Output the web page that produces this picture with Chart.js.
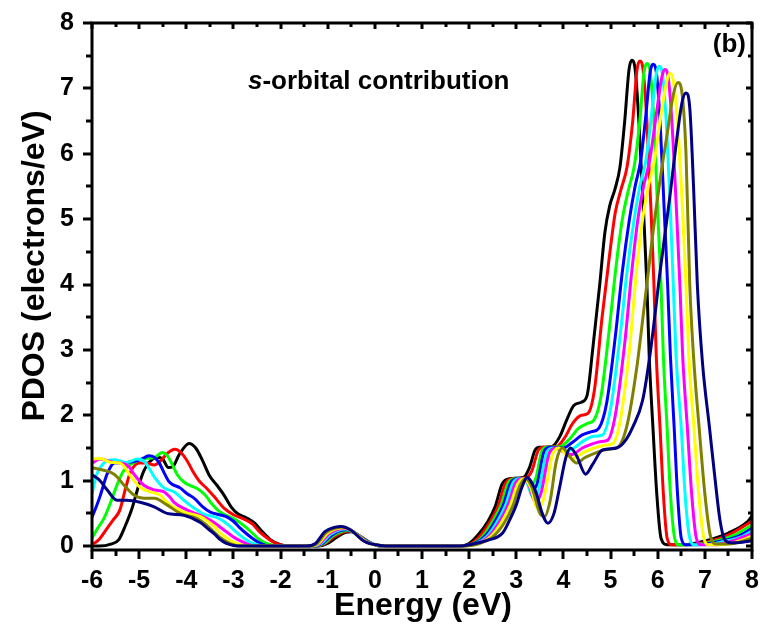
<!DOCTYPE html>
<html>
<head>
<meta charset="utf-8">
<script src="https://cdn.jsdelivr.net/npm/chart.js@4.4.1/dist/chart.umd.min.js"></script>
<style>
html,body{margin:0;padding:0;background:#fff;}
#wrap{width:761px;height:629px;position:relative;}
</style>
</head>
<body>
<div id="wrap"><canvas id="c" width="761" height="629"></canvas></div>
<script>
// ---- tick labels ----
const xTickValues = [-6,-5,-4,-3,-2,-1,0,1,2,3,4,5,6,7,8];
const yTickValues = [0,1,2,3,4,5,6,7,8];
const seriesColors = ['#000000','#ff0000','#00ff00','#0000ff','#00ffff','#ff00ff','#ffff00','#808000','#000080'];

// ---- series values [energy (eV), PDOS] ----
const sBlack = [[-6,0],[-5.85,0],[-5.6,0.03],[-5.43,0.1],[-5.3,0.3],[-5.15,0.58],[-5.0,0.95],[-4.9,1.15],[-4.79,1.28],[-4.62,1.36],[-4.5,1.33],[-4.38,1.2],[-4.28,1.22],[-4.15,1.4],[-3.94,1.57],[-3.8,1.5],[-3.65,1.3],[-3.51,1.08],[-3.35,0.93],[-3.2,0.78],[-3.05,0.6],[-2.9,0.49],[-2.72,0.43],[-2.55,0.35],[-2.4,0.23],[-2.2,0.09],[-2.0,0.02],[-1.8,0],
 [-1.2,0],[-1.0,0.04],[-0.8,0.14],[-0.62,0.21],[-0.5,0.22],[-0.35,0.17],[-0.12,0.06],[0.05,0.01],[0.2,0],
 [1.8,0],[2.0,0.04],[2.2,0.18],[2.4,0.38],[2.55,0.6],[2.7,0.95],[2.85,1.03],[3.15,1.05],[3.28,1.2],[3.4,1.47],[3.5,1.51],[3.75,1.52],[3.92,1.67],[4.07,1.93],[4.22,2.15],[4.38,2.2],[4.5,2.3],[4.62,3.0],[4.77,4.0],[4.88,4.8],[4.98,5.2],[5.09,5.45],[5.2,5.8],[5.3,6.5],[5.39,7.28],[5.45,7.43],[5.52,7.3],[5.6,6.5],[5.7,5.1],[5.77,4.0],[5.82,2.9],[5.9,1.8],[5.98,0.8],[6.07,0.12],[6.2,0.02],[6.5,0.02],[7.0,0.08],[7.5,0.2],[7.9,0.37],[8,0.46]];
const sRed = [[-6,0.02],[-5.85,0.1],[-5.7,0.25],[-5.55,0.4],[-5.41,0.55],[-5.3,0.85],[-5.19,1.12],[-5.0,1.27],[-4.85,1.27],[-4.68,1.24],[-4.55,1.3],[-4.4,1.42],[-4.24,1.48],[-4.1,1.42],[-3.98,1.3],[-3.85,1.13],[-3.73,1.0],[-3.55,0.87],[-3.4,0.75],[-3.2,0.58],[-3.0,0.48],[-2.8,0.42],[-2.6,0.34],[-2.45,0.22],[-2.3,0.13],[-2.1,0.04],[-1.95,0.01],[-1.8,0],
 [-1.25,0],[-1.05,0.04],[-0.85,0.15],[-0.65,0.22],[-0.53,0.23],[-0.38,0.18],[-0.15,0.07],[0.05,0.01],[0.22,0],
 [1.8,0],[2.05,0.04],[2.25,0.17],[2.45,0.38],[2.62,0.62],[2.77,0.96],[2.92,1.03],[3.2,1.04],[3.33,1.15],[3.47,1.47],[3.58,1.51],[3.85,1.52],[4.02,1.65],[4.2,1.88],[4.38,2.0],[4.52,2.03],[4.66,2.4],[4.82,3.5],[4.97,4.4],[5.1,5.1],[5.22,5.45],[5.35,5.8],[5.47,6.5],[5.56,7.28],[5.62,7.42],[5.69,7.28],[5.77,6.5],[5.86,5.1],[5.92,4.0],[5.97,2.9],[6.05,1.8],[6.12,0.8],[6.2,0.12],[6.3,0.02],[6.6,0.02],[7.1,0.07],[7.5,0.17],[8,0.38]];
const sGreen = [[-6,0.12],[-5.9,0.25],[-5.75,0.42],[-5.63,0.62],[-5.53,0.82],[-5.42,1.02],[-5.32,1.16],[-5.11,1.28],[-4.9,1.34],[-4.68,1.35],[-4.51,1.43],[-4.4,1.38],[-4.3,1.25],[-4.18,1.08],[-4.05,0.98],[-3.9,0.92],[-3.77,0.88],[-3.6,0.78],[-3.45,0.64],[-3.3,0.53],[-3.15,0.47],[-3.0,0.42],[-2.88,0.37],[-2.72,0.28],[-2.6,0.2],[-2.45,0.1],[-2.3,0.04],[-2.15,0.01],[-2.0,0],
 [-1.28,0],[-1.08,0.04],[-0.88,0.16],[-0.68,0.23],[-0.56,0.24],[-0.4,0.19],[-0.16,0.07],[0.06,0.01],[0.24,0],
 [1.8,0],[2.1,0.04],[2.3,0.16],[2.5,0.38],[2.68,0.63],[2.83,0.97],[2.98,1.03],[3.22,1.02],[3.32,0.95],[3.42,1.05],[3.55,1.47],[3.65,1.51],[3.93,1.52],[4.12,1.63],[4.32,1.8],[4.52,1.88],[4.65,1.93],[4.8,2.3],[4.97,3.3],[5.12,4.3],[5.25,5.0],[5.38,5.45],[5.5,5.8],[5.62,6.5],[5.71,7.25],[5.77,7.38],[5.84,7.25],[5.92,6.5],[6.0,5.1],[6.07,4.0],[6.12,2.9],[6.2,1.8],[6.27,0.8],[6.36,0.12],[6.45,0.02],[6.7,0.02],[7.2,0.07],[7.6,0.16],[8,0.32]];
const sBlue = [[-6,0.44],[-5.9,0.62],[-5.83,0.76],[-5.68,1.1],[-5.53,1.27],[-5.26,1.28],[-4.98,1.32],[-4.79,1.38],[-4.68,1.36],[-4.58,1.28],[-4.47,1.12],[-4.36,0.98],[-4.13,0.89],[-3.98,0.8],[-3.83,0.73],[-3.65,0.6],[-3.49,0.52],[-3.3,0.48],[-3.15,0.45],[-3.0,0.38],[-2.88,0.29],[-2.74,0.2],[-2.6,0.12],[-2.45,0.05],[-2.3,0.01],[-2.15,0],
 [-1.31,0],[-1.11,0.04],[-0.91,0.17],[-0.71,0.24],[-0.59,0.25],[-0.42,0.2],[-0.17,0.07],[0.07,0.01],[0.26,0],
 [1.8,0],[2.12,0.04],[2.35,0.16],[2.55,0.38],[2.73,0.64],[2.88,0.97],[3.03,1.03],[3.22,1.0],[3.33,0.86],[3.44,0.95],[3.6,1.46],[3.72,1.51],[4.0,1.5],[4.18,1.58],[4.4,1.7],[4.6,1.75],[4.75,1.8],[4.92,2.2],[5.1,3.2],[5.25,4.2],[5.4,5.0],[5.52,5.5],[5.64,5.9],[5.75,6.6],[5.84,7.25],[5.9,7.37],[5.97,7.25],[6.05,6.5],[6.14,5.1],[6.21,4.0],[6.27,2.9],[6.35,1.8],[6.42,0.8],[6.5,0.12],[6.6,0.02],[6.85,0.02],[7.3,0.07],[7.7,0.15],[8,0.27]];
const sCyan = [[-6,0.8],[-5.9,1.1],[-5.75,1.27],[-5.53,1.32],[-5.26,1.28],[-5.04,1.33],[-4.87,1.28],[-4.78,1.18],[-4.68,1.06],[-4.47,0.89],[-4.26,0.83],[-4.05,0.7],[-3.77,0.55],[-3.6,0.48],[-3.41,0.45],[-3.25,0.4],[-3.1,0.32],[-2.95,0.22],[-2.8,0.13],[-2.65,0.06],[-2.5,0.02],[-2.35,0],
 [-1.34,0],[-1.14,0.04],[-0.94,0.18],[-0.74,0.25],[-0.62,0.26],[-0.44,0.21],[-0.18,0.07],[0.08,0.01],[0.28,0],
 [1.8,0],[2.15,0.04],[2.38,0.15],[2.6,0.38],[2.78,0.64],[2.93,0.97],[3.07,1.03],[3.22,0.98],[3.35,0.75],[3.47,0.85],[3.65,1.44],[3.78,1.5],[4.04,1.45],[4.22,1.5],[4.45,1.62],[4.65,1.68],[4.83,1.7],[5.0,2.1],[5.2,3.2],[5.35,4.2],[5.5,5.0],[5.62,5.5],[5.75,5.9],[5.87,6.6],[5.97,7.22],[6.03,7.34],[6.1,7.22],[6.18,6.5],[6.27,5.1],[6.33,4.0],[6.39,2.9],[6.5,1.8],[6.58,0.8],[6.68,0.12],[6.78,0.02],[7.0,0.02],[7.4,0.07],[7.8,0.15],[8,0.23]];
const sMagenta = [[-6,1.27],[-5.83,1.33],[-5.53,1.28],[-5.32,1.26],[-5.2,1.2],[-5.11,1.1],[-4.9,0.93],[-4.68,0.86],[-4.47,0.83],[-4.35,0.75],[-4.26,0.67],[-3.98,0.55],[-3.7,0.47],[-3.45,0.38],[-3.3,0.3],[-3.15,0.22],[-3.0,0.14],[-2.88,0.09],[-2.7,0.03],[-2.5,0],
 [-1.37,0],[-1.17,0.04],[-0.97,0.19],[-0.76,0.26],[-0.64,0.27],[-0.46,0.22],[-0.19,0.07],[0.09,0.01],[0.3,0],
 [1.8,0],[2.18,0.04],[2.42,0.15],[2.65,0.38],[2.83,0.64],[2.98,0.96],[3.12,1.03],[3.26,0.95],[3.4,0.68],[3.52,0.8],[3.7,1.42],[3.84,1.5],[4.05,1.42],[4.18,1.4],[4.4,1.5],[4.6,1.56],[4.8,1.6],[4.94,1.62],[5.1,2.0],[5.3,3.1],[5.45,4.2],[5.58,5.0],[5.7,5.5],[5.83,5.9],[5.97,6.6],[6.09,7.18],[6.15,7.29],[6.22,7.18],[6.3,6.5],[6.4,5.1],[6.47,4.0],[6.53,2.9],[6.63,1.8],[6.72,0.8],[6.82,0.12],[6.92,0.02],[7.2,0.02],[7.5,0.06],[8,0.19]];
const sYellow = [[-6,1.33],[-5.83,1.34],[-5.6,1.28],[-5.41,1.27],[-5.3,1.2],[-5.21,1.1],[-4.98,0.9],[-4.77,0.83],[-4.56,0.78],[-4.45,0.7],[-4.34,0.63],[-4.05,0.52],[-3.7,0.45],[-3.55,0.38],[-3.41,0.3],[-3.28,0.2],[-3.15,0.13],[-3.0,0.06],[-2.88,0.03],[-2.7,0],
 [-1.4,0],[-1.2,0.04],[-1.0,0.2],[-0.79,0.27],[-0.67,0.28],[-0.48,0.23],[-0.2,0.07],[0.1,0.01],[0.32,0],
 [1.8,0],[2.2,0.04],[2.45,0.14],[2.7,0.38],[2.88,0.64],[3.03,0.95],[3.16,1.03],[3.3,0.9],[3.45,0.58],[3.58,0.72],[3.76,1.38],[3.9,1.5],[4.08,1.38],[4.2,1.34],[4.42,1.43],[4.65,1.5],[4.85,1.54],[5.05,1.57],[5.2,1.9],[5.4,3.0],[5.55,4.2],[5.68,5.0],[5.8,5.5],[5.93,5.9],[6.07,6.6],[6.2,7.13],[6.26,7.23],[6.33,7.12],[6.42,6.5],[6.53,5.1],[6.6,4.0],[6.66,2.9],[6.77,1.8],[6.87,0.8],[6.98,0.12],[7.08,0.02],[7.3,0.02],[7.6,0.05],[8,0.15]];
const sOlive = [[-6,1.2],[-5.75,1.16],[-5.53,1.1],[-5.42,1.02],[-5.32,0.93],[-5.11,0.78],[-4.9,0.73],[-4.68,0.73],[-4.41,0.63],[-4.13,0.5],[-3.77,0.42],[-3.6,0.34],[-3.45,0.24],[-3.3,0.14],[-3.15,0.07],[-3.0,0.02],[-2.85,0],
 [-1.43,0],[-1.23,0.04],[-1.03,0.21],[-0.81,0.28],[-0.69,0.29],[-0.5,0.24],[-0.21,0.07],[0.11,0.01],[0.34,0],
 [1.8,0],[2.22,0.04],[2.5,0.14],[2.75,0.36],[2.93,0.62],[3.08,0.93],[3.2,1.03],[3.33,0.9],[3.5,0.5],[3.6,0.45],[3.72,0.7],[3.85,1.3],[3.98,1.5],[4.12,1.38],[4.28,1.27],[4.45,1.35],[4.7,1.43],[4.95,1.48],[5.15,1.51],[5.35,1.85],[5.55,2.7],[5.72,3.7],[5.9,4.8],[6.05,5.6],[6.2,6.3],[6.33,6.9],[6.43,7.09],[6.52,6.9],[6.6,6.0],[6.68,4.0],[6.76,2.9],[6.88,1.8],[7.0,0.8],[7.12,0.15],[7.25,0.03],[7.5,0.03],[8,0.12]];
const sNavy = [[-6,1.09],[-5.83,1.0],[-5.68,0.86],[-5.47,0.7],[-5.26,0.7],[-4.98,0.67],[-4.68,0.6],[-4.41,0.5],[-4.05,0.47],[-3.7,0.36],[-3.55,0.27],[-3.41,0.19],[-3.28,0.1],[-3.15,0.04],[-3.0,0.01],[-2.85,0],
 [-1.46,0],[-1.26,0.04],[-1.06,0.22],[-0.84,0.29],[-0.72,0.3],[-0.52,0.25],[-0.22,0.07],[0.12,0.01],[0.36,0],
 [1.8,0],[2.0,0.02],[2.4,0.09],[2.71,0.2],[2.86,0.4],[3.0,0.63],[3.12,0.9],[3.23,1.05],[3.33,0.97],[3.43,0.8],[3.54,0.52],[3.67,0.35],[3.8,0.5],[3.92,0.9],[4.05,1.35],[4.15,1.5],[4.28,1.38],[4.47,1.1],[4.62,1.25],[4.83,1.47],[5.13,1.5],[5.3,1.6],[5.47,1.82],[5.68,2.23],[5.85,3.0],[6.05,4.2],[6.25,5.3],[6.4,6.2],[6.52,6.8],[6.6,6.93],[6.68,6.7],[6.76,5.5],[6.84,4.0],[6.95,2.8],[7.1,1.8],[7.22,1.0],[7.32,0.4],[7.42,0.1],[7.55,0.05],[7.8,0.06],[8,0.08]];

const allSeries = [sBlack,sRed,sGreen,sBlue,sCyan,sMagenta,sYellow,sOlive,sNavy];

const FONT = "'Liberation Sans', Arial, sans-serif";

const framePlugin = {
  id: 'frame',
  afterDatasetsDraw(chart) {
    const {ctx, chartArea, scales} = chart;
    const {left, right, top, bottom} = chartArea;
    const xs = scales.x, ys = scales.y;
    ctx.save();
    ctx.strokeStyle = '#000';
    ctx.lineWidth = 3;
    ctx.lineCap = 'butt';
    ctx.strokeRect(left, top, right - left, bottom - top);
    const seg = (x1,y1,x2,y2)=>{ctx.beginPath();ctx.moveTo(x1,y1);ctx.lineTo(x2,y2);ctx.stroke();};
    for (let i = 0; i < xTickValues.length; i++) {
      const v = xTickValues[i];
      const px = Math.round(xs.getPixelForValue(v));
      seg(px, bottom, px, bottom + 9);
      seg(px, top, px, top + 6);
      if (i < xTickValues.length - 1) {
        const pm = Math.round(xs.getPixelForValue((v + xTickValues[i+1]) / 2));
        seg(pm, bottom, pm, bottom + 6);
        seg(pm, top, pm, top + 4);
      }
    }
    for (let i = 0; i < yTickValues.length; i++) {
      const v = yTickValues[i];
      const py = Math.round(ys.getPixelForValue(v));
      seg(left, py, left - 9, py);
      seg(right, py, right - 6, py);
      if (i < yTickValues.length - 1) {
        const pm = Math.round(ys.getPixelForValue((v + yTickValues[i+1]) / 2));
        seg(left, pm, left - 6, pm);
        seg(right, pm, right - 4, pm);
      }
    }
    // texts
    ctx.fillStyle = '#000';
    ctx.textBaseline = 'alphabetic';
    ctx.textAlign = 'left';
    ctx.font = "italic bold 26px " + FONT;
    ctx.fillText('s', 248, 89);
    const sw = ctx.measureText('s').width;
    ctx.font = "bold 26px " + FONT;
    ctx.fillText('-orbital contribution', 248 + sw, 89);
    ctx.textAlign = 'right';
    ctx.fillText('(b)', 746, 52);
    // axis titles
    ctx.font = "bold 32px " + FONT;
    ctx.textAlign = 'center';
    ctx.textBaseline = 'middle';
    ctx.fillText('Energy (eV)', 423, 606);
    ctx.save();
    ctx.translate(35, 266);
    ctx.rotate(-Math.PI/2);
    ctx.fillText('PDOS (electrons/eV)', 0, 0);
    ctx.restore();
    ctx.restore();
  }
};

const zeroPad = s => { s.paddingLeft = 0; s.paddingRight = 0; s.paddingTop = 0; s.paddingBottom = 0; };

new Chart(document.getElementById('c'), {
  type: 'line',
  data: {
    datasets: allSeries.map((s, i) => ({
      data: s.map(p => ({x: p[0], y: p[1]})),
      borderColor: seriesColors[i],
      borderWidth: 3,
      pointRadius: 0,
      fill: false,
      cubicInterpolationMode: 'monotone',
      order: allSeries.length - i
    }))
  },
  options: {
    responsive: false,
    animation: false,
    devicePixelRatio: 1,
    layout: {padding: {left: 0, right: 9, top: 23, bottom: 0}},
    plugins: {legend: {display: false}, tooltip: {enabled: false}},
    scales: {
      x: {
        type: 'linear', min: -6, max: 8,
        afterBuildTicks: s => { s.ticks = xTickValues.map(v => ({value: v})); },
        afterFit: s => { s.height = 79; zeroPad(s); },
        grid: {display: false, drawTicks: false},
        border: {display: false},
        ticks: {color: '#000', font: {family: FONT, weight: 'bold', size: 25}, padding: 16, maxRotation: 0, autoSkip: false}
      },
      y: {
        type: 'linear', min: -0.06, max: 8,
        afterBuildTicks: s => { s.ticks = yTickValues.map(v => ({value: v})); },
        afterFit: s => { s.width = 92; zeroPad(s); },
        grid: {display: false, drawTicks: false},
        border: {display: false},
        ticks: {color: '#000', font: {family: FONT, weight: 'bold', size: 25}, padding: 18}
      }
    }
  },
  plugins: [framePlugin]
});
</script>
</body>
</html>
